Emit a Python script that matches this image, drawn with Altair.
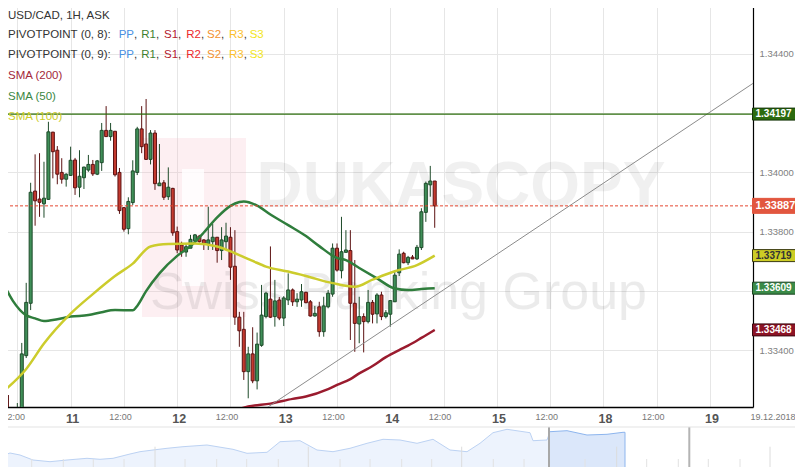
import json
import altair as alt
import pandas as pd

# ------------------------------------------------------------------ data
# hour index: 0 = Mon 10 Dec 12:00; weekend hours are skipped
# (12 = 11 Dec, 36 = 12 Dec, 60 = 13 Dec, 84 = 14 Dec, 108 = 15 Dec, 132 = 18 Dec, 156 = 19 Dec)
candle_hour = list(range(-2, 95))
candle_open = [1.33180, 1.33160, 1.33140, 1.33180, 1.33381, 1.33558, 1.33937, 1.33910, 1.33894, 1.33909,
               1.34136, 1.34075, 1.34000, 1.33977, 1.33990, 1.34042, 1.33950, 1.33982, 1.34008, 1.34027,
               1.33994, 1.34033, 1.34142, 1.34121, 1.34139, 1.34000, 1.33881, 1.33810, 1.33898, 1.34000,
               1.34147, 1.34096, 1.34044, 1.34133, 1.33955, 1.33965, 1.33918, 1.33946, 1.33800, 1.33755,
               1.33731, 1.33744, 1.33769, 1.33785, 1.33772, 1.33758, 1.33766, 1.33781, 1.33736, 1.33766,
               1.33781, 1.33683, 1.33511, 1.33470, 1.33327, 1.33387, 1.33296, 1.33416, 1.33513, 1.33572,
               1.33513, 1.33569, 1.33508, 1.33569, 1.33603, 1.33563, 1.33569, 1.33595, 1.33563, 1.33515,
               1.33546, 1.33462, 1.33546, 1.33589, 1.33744, 1.33668, 1.33730, 1.33736, 1.33558, 1.33488,
               1.33513, 1.33496, 1.33561, 1.33522, 1.33586, 1.33513, 1.33521, 1.33563, 1.33661, 1.33727,
               1.33695, 1.33714, 1.33708, 1.33746, 1.33865, 1.33958, 1.33971]
candle_high = [1.33248, 1.33190, 1.33221, 1.33424, 1.33627, 1.33965, 1.34061, 1.34065, 1.34036, 1.34171,
               1.34137, 1.34089, 1.34048, 1.33997, 1.34087, 1.34049, 1.34075, 1.34019, 1.34059, 1.34042,
               1.34042, 1.34167, 1.34224, 1.34167, 1.34140, 1.34015, 1.33883, 1.33916, 1.34041, 1.34154,
               1.34224, 1.34248, 1.34143, 1.34143, 1.34096, 1.33974, 1.34017, 1.33948, 1.33817, 1.33766,
               1.33760, 1.33789, 1.33792, 1.33789, 1.33774, 1.33884, 1.33826, 1.33781, 1.33815, 1.33830,
               1.33815, 1.33805, 1.33529, 1.33529, 1.33411, 1.33477, 1.33459, 1.33620, 1.33597, 1.33750,
               1.33637, 1.33579, 1.33582, 1.33659, 1.33608, 1.33592, 1.33623, 1.33597, 1.33569, 1.33549,
               1.33563, 1.33580, 1.33603, 1.33760, 1.33760, 1.33850, 1.33805, 1.33805, 1.33704, 1.33580,
               1.33524, 1.33603, 1.33569, 1.33592, 1.33597, 1.33535, 1.33569, 1.33665, 1.33740, 1.33732,
               1.33718, 1.33721, 1.33755, 1.33879, 1.33969, 1.34022, 1.33971]
candle_low = [1.33120, 1.33100, 1.33120, 1.33160, 1.33373, 1.33535, 1.33820, 1.33850, 1.33847, 1.33907,
              1.33980, 1.33960, 1.33962, 1.33952, 1.33988, 1.33924, 1.33916, 1.33944, 1.34002, 1.33988,
              1.33991, 1.34005, 1.34120, 1.34107, 1.33986, 1.33860, 1.33800, 1.33791, 1.33890, 1.33991,
              1.34065, 1.34042, 1.34027, 1.33941, 1.33955, 1.33907, 1.33907, 1.33786, 1.33727, 1.33715,
              1.33715, 1.33744, 1.33766, 1.33763, 1.33738, 1.33738, 1.33738, 1.33695, 1.33704, 1.33738,
              1.33637, 1.33485, 1.33411, 1.33299, 1.33237, 1.33288, 1.33267, 1.33411, 1.33507, 1.33508,
              1.33479, 1.33501, 1.33481, 1.33552, 1.33549, 1.33546, 1.33546, 1.33558, 1.33513, 1.33513,
              1.33445, 1.33445, 1.33541, 1.33580, 1.33665, 1.33642, 1.33730, 1.33434, 1.33394, 1.33423,
              1.33392, 1.33490, 1.33490, 1.33490, 1.33501, 1.33507, 1.33479, 1.33563, 1.33650, 1.33693,
              1.33687, 1.33707, 1.33704, 1.33738, 1.33833, 1.33918, 1.33813]
candle_close = [1.33160, 1.33140, 1.33180, 1.33387, 1.33561, 1.33933, 1.33904, 1.33899, 1.33913, 1.34137,
                1.34070, 1.33994, 1.33977, 1.33994, 1.34041, 1.33948, 1.33987, 1.34018, 1.34027, 1.33995,
                1.34039, 1.34142, 1.34121, 1.34142, 1.33992, 1.33871, 1.33808, 1.33902, 1.34005, 1.34147,
                1.34087, 1.34044, 1.34133, 1.33962, 1.33964, 1.33916, 1.33950, 1.33796, 1.33738, 1.33732,
                1.33749, 1.33774, 1.33789, 1.33766, 1.33757, 1.33772, 1.33781, 1.33736, 1.33772, 1.33785,
                1.33680, 1.33511, 1.33465, 1.33327, 1.33387, 1.33296, 1.33420, 1.33518, 1.33592, 1.33511,
                1.33566, 1.33508, 1.33576, 1.33603, 1.33563, 1.33572, 1.33597, 1.33560, 1.33515, 1.33524,
                1.33462, 1.33549, 1.33592, 1.33744, 1.33670, 1.33732, 1.33738, 1.33558, 1.33490, 1.33513,
                1.33496, 1.33561, 1.33521, 1.33586, 1.33513, 1.33526, 1.33567, 1.33653, 1.33724, 1.33695,
                1.33713, 1.33708, 1.33747, 1.33867, 1.33963, 1.33971, 1.33887]

sma200_hour = [50, 52, 57, 62, 65, 70, 72, 75, 77, 80, 83, 86, 88, 91, 94]
sma200_value = [1.33201, 1.33209, 1.33219, 1.33235, 1.33243, 1.33268, 1.33282, 1.33302, 1.33321,
                1.33346, 1.33376, 1.33400, 1.33415, 1.33441, 1.33468]

sma50_hour = [-3, -1, 2, 4, 6, 9, 12, 16, 19, 22, 26, 27, 29, 32, 36, 39, 42, 45, 48, 50, 51, 54,
              57, 61, 65, 68, 72, 74, 77, 81, 85, 88, 91, 94]
sma50_value = [1.33620, 1.33566, 1.33517, 1.33507, 1.33498, 1.33504, 1.33513, 1.33518, 1.33528,
               1.33535, 1.33534, 1.33549, 1.33599, 1.33659, 1.33718, 1.33751, 1.33797, 1.33848,
               1.33887, 1.33900, 1.33902, 1.33888, 1.33858, 1.33822, 1.33785, 1.33751, 1.33711,
               1.33704, 1.33677, 1.33642, 1.33608, 1.33603, 1.33606, 1.33609]

sma100_hour = [-3, 2, 6, 12, 17, 22, 26, 30, 34, 40, 45, 49, 53, 56, 61, 65, 71, 76, 80, 85, 90, 94]
sma100_value = [1.33262, 1.33336, 1.33422, 1.33523, 1.33589, 1.33650, 1.33692, 1.33750, 1.33758,
                1.33760, 1.33750, 1.33727, 1.33701, 1.33682, 1.33665, 1.33650, 1.33626, 1.33614,
                1.33638, 1.33666, 1.33687, 1.33719]

trend_hour = [52, 168]
trend_value = [1.33163, 1.34324]

resistance_level = 1.34197
last_price = 1.33887

tag_values = [1.34197, 1.33887, 1.33719, 1.33609, 1.33468]
tag_labels = ["1.34197", "1.33887", "1.33719", "1.33609", "1.33468"]

x_tick_hours = list(range(0, 157, 12))
x_tick_labels = ["12:00", "11", "12:00", "12", "12:00", "13", "12:00", "14",
                 "12:00", "15", "12:00", "18", "12:00", "19"]
y_tick_values = [1.334, 1.336, 1.338, 1.340, 1.342, 1.344]

# navigator overview (position along the overview strip, relative level of the line)
nav_pos = [0, 10, 20, 33, 50, 67, 87, 100, 113, 130, 140, 153, 167, 183, 207, 233, 247, 267, 280,
           300, 317, 333, 350, 367, 383, 400, 417, 433, 450, 467, 480, 493, 507, 530, 533, 547, 550]
nav_level = [10.3, 14, 12, 7, 5.3, 7, 8.7, 7.7, 8.7, 13, 15.3, 17, 18.7, 20.3, 22, 17.7, 13.7, 14.7,
             25.3, 26.3, 17, 15.3, 18.7, 23.7, 27.7, 27, 23.7, 27.7, 17, 15.3, 23.7, 34.3, 37.7,
             34.3, 26.3, 27, 35.3]
nav_sel_pos = [550, 567, 587, 607, 623, 625]
nav_sel_level = [35.3, 36.3, 32, 32.7, 34.7, 34.7]

# ------------------------------------------------------------------ layout / style
W, H = 753, 407
X_DOMAIN = [-2.778, 164.556]
Y_DOMAIN = [1.332076, 1.345824]
PX = (Y_DOMAIN[1] - Y_DOMAIN[0]) / H   # price per pixel
NAV_BOTTOM = 467

UP_FILL, UP_EDGE = "#3f8f58", "#1e4b2a"
DN_FILL, DN_EDGE = "#c43a2f", "#5c1212"
FONT = "Liberation Sans"

xs = alt.Scale(domain=X_DOMAIN, nice=False, zero=False)
ys = alt.Scale(domain=Y_DOMAIN, nice=False, zero=False)

day_test = "round(datum.value / 12) % 2 == 1"
x_axis = alt.Axis(
    values=x_tick_hours, grid=True, gridColor="#e6e6e6", gridWidth=1,
    domain=True, domainColor="#000000", domainWidth=1.5, ticks=False,
    labelExpr=json.dumps(x_tick_labels) + "[round(datum.value / 12)]",
    labelFontSize={"condition": {"test": day_test, "value": 12.5}, "value": 9},
    labelFontWeight={"condition": {"test": day_test, "value": "bold"}, "value": "normal"},
    labelColor={"condition": {"test": day_test, "value": "#555555"}, "value": "#777777"},
    labelOffset={"condition": {"test": day_test, "value": 1.5}, "value": -4},
    labelPadding=5.5, labelFlush=False, labelOverlap=False, labelBound=False, title=None,
)
y_axis = alt.Axis(
    orient="right", values=y_tick_values, grid=True, gridColor="#e6e6e6", gridWidth=1,
    domain=True, domainColor="#000000", domainWidth=1.2, ticks=False,
    labelExpr="(abs(datum.value - 1.342) < 0.00001 || abs(datum.value - 1.336) < 0.00001) ? '' : format(datum.value, '.5f')",
    labelFontSize=9.5, labelColor="#808080", labelPadding=6, labelFlush=False,
    labelOverlap=False, labelBaseline="middle", title=None,
)

one = pd.DataFrame({"a": [0]})

# ------------------------------------------------------------------ watermark
wm_pink = alt.Chart(one).mark_rect(color="#f4b8c2", opacity=0.22).encode(
    x=alt.value(142), x2=alt.value(246), y=alt.value(138), y2=alt.value(317))
wm_white = alt.Chart(one).mark_rect(color="#ffffff", opacity=0.8).encode(
    x=alt.value(182), x2=alt.value(204), y=alt.value(169), y2=alt.value(286))
wm_text1 = alt.Chart(one).mark_text(
    text="DUKASCOPY", font=FONT, fontWeight="bold", fontSize=64,
    color="#000000", opacity=0.055, align="center", baseline="middle").encode(
    x=alt.value(461), y=alt.value(188))
wm_text2 = alt.Chart(one).mark_text(
    text="Swiss Banking Group", font=FONT, fontSize=52,
    color="#000000", opacity=0.075, align="right", baseline="middle").encode(
    x=alt.value(647), y=alt.value(293))

# ------------------------------------------------------------------ candles
candles = pd.DataFrame({"hour": candle_hour, "open": candle_open, "high": candle_high,
                        "low": candle_low, "close": candle_close})
candles["up"] = candles["close"] >= candles["open"]
cb = alt.Chart(candles)
wicks = cb.mark_rule(strokeWidth=1, clip=True).encode(
    x=alt.X("hour:Q", scale=xs, axis=x_axis),
    y=alt.Y("low:Q", scale=ys, axis=y_axis),
    y2="high:Q",
    color=alt.condition("datum.up", alt.value(UP_EDGE), alt.value(DN_EDGE)),
)
bodies = cb.mark_bar(size=3, strokeWidth=1, clip=True).encode(
    x=alt.X("hour:Q", scale=xs, axis=x_axis),
    y=alt.Y("open:Q", scale=ys, axis=y_axis),
    y2="close:Q",
    fill=alt.condition("datum.up", alt.value(UP_FILL), alt.value(DN_FILL)),
    stroke=alt.condition("datum.up", alt.value(UP_EDGE), alt.value(DN_EDGE)),
)


def line_layer(hours, values, color, width, **kw):
    df = pd.DataFrame({"hour": hours, "value": values})
    return alt.Chart(df).mark_line(color=color, strokeWidth=width, clip=True, **kw).encode(
        x=alt.X("hour:Q", scale=xs, axis=x_axis),
        y=alt.Y("value:Q", scale=ys, axis=y_axis),
    )


sma200 = line_layer(sma200_hour, sma200_value, "#9a1b2e", 2.5, interpolate="monotone")
sma50 = line_layer(sma50_hour, sma50_value, "#2f7d3c", 2.5, interpolate="monotone")
sma100 = line_layer(sma100_hour, sma100_value, "#cccc2c", 2.5, interpolate="monotone")
trend = line_layer(trend_hour, trend_value, "#8c8c8c", 1)

res_line = alt.Chart(pd.DataFrame({"v": [resistance_level]})).mark_rule(
    color="#2d6e0c", strokeWidth=1.3).encode(y=alt.Y("v:Q", scale=ys, axis=y_axis))
last_line = alt.Chart(pd.DataFrame({"v": [last_price]})).mark_rule(
    color="#e5472f", strokeWidth=1, strokeDash=[3, 2]).encode(y=alt.Y("v:Q", scale=ys, axis=y_axis))

# ------------------------------------------------------------------ price tags
tags = pd.DataFrame({
    "value": tag_values, "label": tag_labels,
    "fill": ["#2c6b0f", "#e2563f", "#cdcd25", "#3a8a47", "#8c1325"],
    "edge": ["#16360a", "#e2563f", "#3a3a10", "#1b4422", "#3a0810"],
    "tcol": ["#ffffff", "#ffffff", "#333333", "#ffffff", "#ffffff"],
    "half": [6, 7.5, 6, 6, 6],
    "fs": [10, 11, 10, 10, 10],
})
tag_rect = alt.Chart(tags).transform_calculate(
    top=f"datum.value + datum.half * {PX}", bot=f"datum.value - datum.half * {PX}"
).mark_rect(strokeWidth=1, clip=False).encode(
    x=alt.value(752.5), x2=alt.value(803),
    y=alt.Y("top:Q", scale=ys, axis=y_axis), y2="bot:Q",
    fill=alt.Fill("fill:N", scale=None), stroke=alt.Stroke("edge:N", scale=None),
)
tag_text = alt.Chart(tags).mark_text(align="left", baseline="middle", fontWeight="bold",
                                     clip=False).encode(
    x=alt.value(755.5), y=alt.Y("value:Q", scale=ys, axis=y_axis), text="label:N",
    color=alt.Color("tcol:N", scale=None), size=alt.Size("fs:Q", scale=None),
)

# ------------------------------------------------------------------ legend (top left)
ARIAL = {"P": 667, "R": 722, "S": 667, "1": 556, "2": 556, "3": 556}
LS = 11.5
LX = 8
pivot_tokens = ["PP", "R1", "S1", "R2", "S2", "R3", "S3"]
pivot_colors = ["#4a90e2", "#3f7f2f", "#b3202e", "#ec2a2a", "#f39230", "#fbc02d", "#f2e61c"]
pivot_x = [118.7, 141.3, 164, 186.3, 207, 229, 249.7]

rows = [("USD/CAD, 1H, ASK", LX, 16, "#333333"),
        ("SMA (200)", LX, 76, "#a3283a"),
        ("SMA (50)", LX, 97, "#3b8743"),
        ("SMA (100)", LX, 117, "#cccc2a")]
for line_y, label in [(35, "PIVOTPOINT (0, 8):"), (55, "PIVOTPOINT (0, 9):")]:
    rows.append((label, LX, line_y, "#333333"))
    for i, (tok, col, tx) in enumerate(zip(pivot_tokens, pivot_colors, pivot_x)):
        rows.append((tok, tx, line_y, col))
        if i < len(pivot_tokens) - 1:
            w = sum(ARIAL[c] for c in tok) * LS / 1000
            rows.append((",", tx + w, line_y, "#333333"))
legend_df = pd.DataFrame(rows, columns=["text", "px", "py", "color"])
legend = alt.Chart(legend_df).mark_text(align="left", baseline="middle", fontSize=LS).encode(
    x=alt.X("px:Q", scale=None), y=alt.Y("py:Q", scale=None), text="text:N",
    color=alt.Color("color:N", scale=None))

date_label = alt.Chart(one).mark_text(text="19.12.2018", fontSize=9, color="#777777",
                                      align="center", baseline="middle").encode(
    x=alt.value(773), y=alt.value(417))

# ------------------------------------------------------------------ navigator strip (pixel space)
nav_df = pd.DataFrame({"t": nav_pos, "level": nav_level})
sel_df = pd.DataFrame({"t": nav_sel_pos, "level": nav_sel_level})


def nav_series(df, fill, stroke):
    base = alt.Chart(df).transform_calculate(
        py=f"{NAV_BOTTOM} - datum.level", pb=f"{NAV_BOTTOM}")
    area = base.mark_area(color=fill).encode(
        x=alt.X("t:Q", scale=None), y=alt.Y("py:Q", scale=None), y2="pb:Q")
    line = base.mark_line(color=stroke, strokeWidth=1).encode(
        x=alt.X("t:Q", scale=None), y=alt.Y("py:Q", scale=None))
    return area, line


nav_area, nav_line = nav_series(nav_df, "#edf3fd", "#bcd2f3")
sel_area, sel_line = nav_series(sel_df, "#dbe7fa", "#8db5ee")

short_ticks = [31.7, 63.3, 93.3, 124, 185, 216.7, 246.7, 278.3, 340, 370, 401.7, 431.7,
               493.3, 524, 585, 646.7, 678.3, 708.3, 740, 800]
tall_ticks = [1.7, 155, 308.3, 461.7, 616.7, 770]
tick_df = pd.DataFrame({
    "t": short_ticks + tall_ticks + [625, 549, 689.3, 0],
    "b": [0] * (len(short_ticks) + len(tall_ticks)) + [0, 0, 0, 40],
    "top": [8] * len(short_ticks) + [20.3] * len(tall_ticks) + [34.7, 40, 40, 40],
    "t2": short_ticks + tall_ticks + [625, 549, 689.3, 803],
    "col": ["#e2e2e2"] * len(short_ticks) + ["#dcdcdc"] * len(tall_ticks)
           + ["#8db5ee", "#a8a8a8", "#b4b4b4", "#e3e3e3"],
    "w": [1] * (len(short_ticks) + len(tall_ticks)) + [1, 2, 2, 1],
})
nav_ticks = alt.Chart(tick_df).transform_calculate(
    yb=f"{NAV_BOTTOM} - datum.b", yt=f"{NAV_BOTTOM} - datum.top"
).mark_rule().encode(
    x=alt.X("t:Q", scale=None), x2="t2:Q",
    y=alt.Y("yb:Q", scale=None), y2="yt:Q",
    color=alt.Color("col:N", scale=None), strokeWidth=alt.StrokeWidth("w:Q", scale=None))

# the page puts the chart at (8, 8) and offers 787 px of width: shift the origin to the window
# corner and keep the whole drawing 787 px wide so that it is not rescaled
chart = alt.layer(
    wm_pink, wm_white, wm_text1, wm_text2,
    wicks, bodies, sma200, sma50, sma100, trend, res_line, last_line,
    tag_rect, tag_text, legend, date_label,
    nav_area, nav_line, sel_area, sel_line, nav_ticks,
).properties(
    width=W, height=H,
    padding={"left": -8, "top": -8, "right": 42, "bottom": 60},
    autosize=alt.AutoSizeParams(type="none"),
).configure(font=FONT).configure_view(stroke=None)

chart.save("out.html", embed_options={"renderer": "svg", "actions": False})
